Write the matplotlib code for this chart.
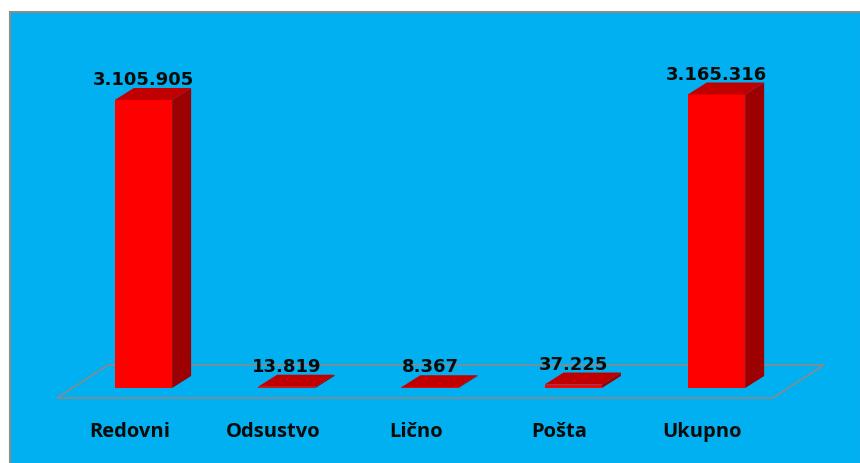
import matplotlib
matplotlib.use("Agg")
import matplotlib.pyplot as plt
from matplotlib.patches import Polygon, Rectangle

categories = ['Redovni', 'Odsustvo', 'Lično', 'Pošta', 'Ukupno']
values = [3105905, 13819, 8367, 37225, 3165316]
value_labels = ['3.105.905', '13.819', '8.367', '37.225', '3.165.316']

BG = '#00B0F0'
FRONT = '#FF0000'
TOP = '#C00000'
SIDE = '#9C0000'

fig = plt.figure(figsize=(8.6, 4.63), dpi=100, facecolor='white')
fig.patches.append(Rectangle((10 / 860, -0.05), 0.99, (463 - 11.5) / 463 + 0.05,
                             transform=fig.transFigure, facecolor=BG,
                             edgecolor='#8c8c8c', linewidth=1.5, zorder=-5))

ax = fig.add_axes([0, 0, 1, 1])
ax.set_facecolor('none')
ax.set_xlim(-1.0017, 5.0017)
ax.set_ylim(-808800, 4184200)
ax.axis('off')

x = list(range(len(categories)))
w = 0.40
dx = 0.1326
dy = 129400

# floor
fx0, fx1 = -0.604, 4.394
fy0 = -107840
fdx, fdy = 0.356, 356000
ax.add_patch(Polygon([(fx0, fy0), (fx1, fy0), (fx1 + fdx, fy0 + fdy), (fx0 + fdx, fy0 + fdy)],
                     closed=True, fill=False, edgecolor='#8a8a8a', linewidth=1.2, zorder=1))

ax.bar(x, values, width=w, color=FRONT, zorder=3, linewidth=0)
for xi, v in zip(x, values):
    r = xi + w / 2
    l = xi - w / 2
    ax.add_patch(Polygon([(r, 0), (r + dx, dy), (r + dx, v + dy), (r, v)],
                         closed=True, facecolor=SIDE, edgecolor='none', zorder=2))
    ax.add_patch(Polygon([(l, v), (r, v), (r + dx, v + dy), (l + dx, v + dy)],
                         closed=True, facecolor=TOP, edgecolor='none', zorder=4))

for xi, v, lab in zip(x, values, value_labels):
    ax.text(xi, v + dy - 12000, lab, ha='center', va='bottom',
            fontsize=13, fontweight='bold', family='DejaVu Sans', color='#0a0a0a', zorder=5)

for xi, c in zip(x, categories):
    ax.text(xi - 0.098, -474500, c, ha='center', va='center',
            fontsize=14.5, fontweight='bold', family='Open Sans', color='#0a0a0a', zorder=5)

fig.savefig('out.png', dpi=100, facecolor='white')
